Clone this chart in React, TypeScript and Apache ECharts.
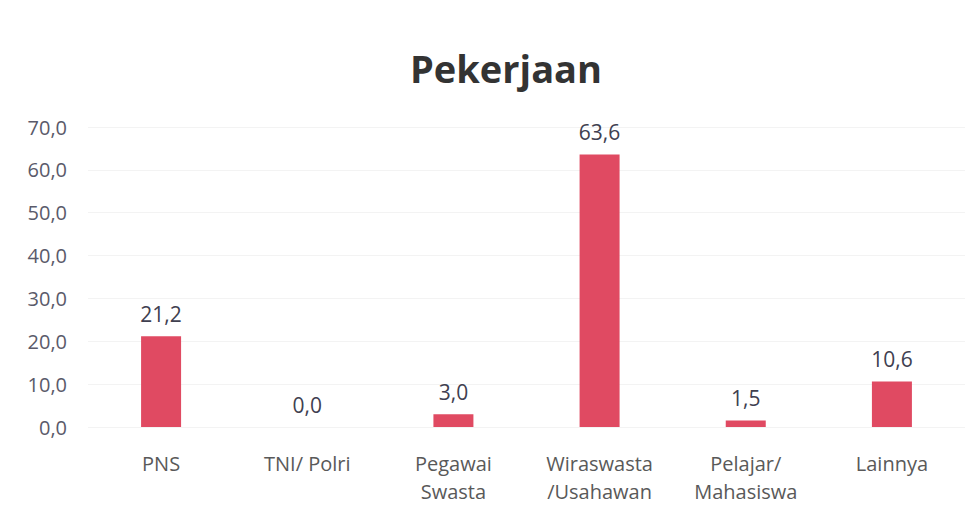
import React, { useEffect, useRef } from "react";
import * as echarts from "echarts";

const categories = ["PNS", "TNI/ Polri", "Pegawai\nSwasta", "Wiraswasta\n/Usahawan", "Pelajar/\nMahasiswa", "Lainnya"];
const values = [21.2, 0.0, 3.0, 63.6, 1.5, 10.6];
const yTicks = [0, 10, 20, 30, 40, 50, 60, 70];

const fmt = (v: number) => v.toFixed(1).replace(".", ",");

export default function App() {
  const ref = useRef<HTMLDivElement>(null);
  useEffect(() => {
    const chart = echarts.init(ref.current!, null, { renderer: "svg" });
    chart.setOption({
      animation: false,
      backgroundColor: "#ffffff",
      title: {
        text: "Pekerjaan",
        top: 44,
        left: 501,
        textAlign: "center",
        textStyle: { fontFamily: "Open Sans", fontWeight: "bold", fontSize: 38, color: "#333333" },
      },
      grid: { left: 88, right: 15, top: 127, bottom: 82 },
      xAxis: {
        type: "category",
        data: categories,
        axisLine: { show: false },
        axisTick: { show: false },
        axisLabel: { fontFamily: "Open Sans", fontSize: 20, color: "#595959", margin: 22, lineHeight: 28 },
      },
      yAxis: {
        type: "value",
        min: yTicks[0],
        max: yTicks[yTicks.length - 1],
        interval: 10,
        axisLabel: { fontFamily: "Open Sans", fontSize: 20, color: "#5a5a6a", margin: 21, formatter: (v: number) => fmt(v) },
        splitLine: { lineStyle: { color: "#f3f3f3", width: 1 } },
      },
      series: [
        {
          type: "bar",
          data: values,
          barWidth: 40,
          itemStyle: { color: "#e04a62" },
          label: {
            show: true,
            position: "top",
            distance: 12,
            formatter: (p: any) => fmt(p.value),
            fontFamily: "Open Sans",
            fontSize: 21,
            color: "#404050",
          },
        },
      ],
    });
    return () => chart.dispose();
  }, []);
  return <div ref={ref} style={{ width: 980, height: 509, position: "absolute", left: 0, top: 0 }} />;
}
